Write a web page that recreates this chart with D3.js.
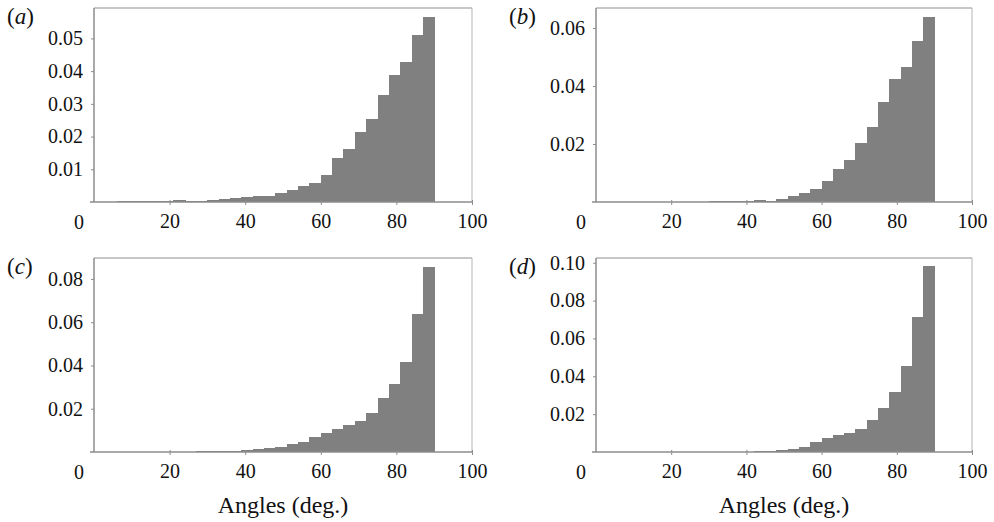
<!DOCTYPE html>
<html>
<head>
<meta charset="utf-8">
<script src="https://cdn.jsdelivr.net/npm/d3@7"></script>
<style>
  html, body { margin: 0; padding: 0; background: #fff; }
  svg { display: block; }
  text { font-family: "Liberation Serif", "Times New Roman", serif; fill: #111; }
</style>
</head>
<body>
<svg id="chart" width="994" height="522"></svg>
<script>
// ---- data ----
const binStarts = [0,3,6,9,12,15,18,21,24,27,30,33,36,39,42,45,48,51,54,57,60,63,66,69,72,75,78,81,84,87];
const binWidth = 3;
const xTicks = [20, 40, 60, 80, 100];
const panelLabels = ["a", "b", "c", "d"];

const valuesA = [0, 0, 0.0002, 0.0004, 0.0003, 0.0002, 0.0003, 0.0005, 0.0004, 0.0003,
  0.0005, 0.0009, 0.0012, 0.0014, 0.0017, 0.0019, 0.0027, 0.0038, 0.0050, 0.0059,
  0.0083, 0.0134, 0.0162, 0.0215, 0.0253, 0.0328, 0.0388, 0.0427, 0.0509, 0.0565];
const valuesB = [0, 0, 0, 0, 0, 0, 0, 0, 0, 0,
  0.0002, 0.0002, 0.0002, 0.0004, 0.0006, 0.0004, 0.0010, 0.0022, 0.0031, 0.0044,
  0.0071, 0.0113, 0.0146, 0.0205, 0.0259, 0.0345, 0.0425, 0.0467, 0.0555, 0.0637];
const valuesC = [0, 0, 0, 0, 0, 0, 0.0001, 0.0002, 0.0002, 0.0003,
  0.0004, 0.0005, 0.0006, 0.0008, 0.0012, 0.0017, 0.0023, 0.0037, 0.0045, 0.0069,
  0.0088, 0.0105, 0.0125, 0.0142, 0.0179, 0.0248, 0.0314, 0.0415, 0.0638, 0.0854];
const valuesD = [0, 0, 0, 0, 0, 0, 0, 0, 0, 0,
  0, 0, 0.0001, 0.0002, 0.0004, 0.0005, 0.0009, 0.0014, 0.0027, 0.0053,
  0.0074, 0.0090, 0.0099, 0.0122, 0.0170, 0.0235, 0.0318, 0.0456, 0.0714, 0.0982];

const yTicksA = [0.01, 0.02, 0.03, 0.04, 0.05];
const yTicksB = [0.02, 0.04, 0.06];
const yTicksC = [0.02, 0.04, 0.06, 0.08];
const yTicksD = [0.02, 0.04, 0.06, 0.08, 0.10];

const yMaxA = 0.0593, yMaxB = 0.0669, yMaxC = 0.0897, yMaxD = 0.1025;

// ---- layout ----
const panels = [
  { label: panelLabels[0], values: valuesA, yTicks: yTicksA, yMax: yMaxA, x0: 94,  x1: 472, top: 8,   bottom: 202, xlabel: false },
  { label: panelLabels[1], values: valuesB, yTicks: yTicksB, yMax: yMaxB, x0: 596, x1: 972, top: 8,   bottom: 202, xlabel: false },
  { label: panelLabels[2], values: valuesC, yTicks: yTicksC, yMax: yMaxC, x0: 94,  x1: 472, top: 258, bottom: 452, xlabel: true },
  { label: panelLabels[3], values: valuesD, yTicks: yTicksD, yMax: yMaxD, x0: 596, x1: 972, top: 258, bottom: 452, xlabel: true }
];

const svg = d3.select("#chart");
const axisDark = "#8c8c8c";
const axisLight = "#b4b4b4";
const barFill = "#808080";
const tickFont = 20;

panels.forEach(p => {
  const x = d3.scaleLinear().domain([0, 100]).range([p.x0, p.x1]);
  const y = d3.scaleLinear().domain([0, p.yMax]).range([p.bottom, p.top]);
  const g = svg.append("g");

  // frame (top & right light)
  g.append("line").attr("x1", x(0)).attr("x2", x(100)).attr("y1", y(p.yMax)).attr("y2", y(p.yMax))
    .attr("stroke", axisLight).attr("stroke-width", 1.5);
  g.append("line").attr("x1", x(100)).attr("x2", x(100)).attr("y1", y(p.yMax)).attr("y2", y(0))
    .attr("stroke", axisLight).attr("stroke-width", 1);

  // bars
  const data = binStarts.map((s, i) => ({ s, v: p.values[i] }));
  g.selectAll("rect.bar").data(data.filter(d => d.v > 0)).join("rect")
    .attr("class", "bar")
    .attr("shape-rendering", "crispEdges")
    .attr("x", d => Math.round(x(d.s)))
    .attr("width", d => Math.round(x(d.s + binWidth)) - Math.round(x(d.s)) + 1)
    .attr("y", d => y(d.v))
    .attr("height", d => y(0) - y(d.v))
    .attr("fill", barFill);

  // y axis
  const yAxis = d3.axisLeft(y).tickValues(p.yTicks).tickFormat(d3.format(".2f")).tickSize(3).tickPadding(8);
  const ya = g.append("g").attr("transform", `translate(${x(0)},0)`).call(yAxis);
  ya.select(".domain").attr("stroke", axisDark).attr("stroke-width", 1.5)
    .attr("d", `M0,${y(p.yMax)}V${y(0)}`);
  ya.selectAll(".tick line").attr("stroke", axisDark);
  ya.selectAll(".tick text").attr("font-size", tickFont).attr("fill", "#111");

  // x axis
  const xAxis = d3.axisBottom(x).tickValues(xTicks).tickFormat(d3.format("d")).tickSize(3).tickPadding(9);
  const xa = g.append("g").attr("transform", `translate(0,${y(0)})`).call(xAxis);
  xa.select(".domain").attr("stroke", axisDark).attr("stroke-width", 1.5)
    .attr("d", `M${x(0) - 4},0H${x(100)}`);
  xa.selectAll(".tick line").attr("stroke", axisDark).attr("y1", -2);
  xa.selectAll(".tick text").attr("font-size", tickFont).attr("fill", "#111");

  // corner "0" label
  g.append("text").attr("x", x(0) - 15).attr("y", y(0) + 27)
    .attr("text-anchor", "middle").attr("font-size", tickFont).text("0");

  // panel label
  const pl = g.append("text").attr("x", p.x0 - 87).attr("y", p.top + 16).attr("font-size", 23);
  pl.append("tspan").text("(");
  pl.append("tspan").attr("font-style", "italic").text(p.label);
  pl.append("tspan").text(")");

  if (p.xlabel) {
    g.append("text").attr("x", x(50)).attr("y", 513).attr("text-anchor", "middle")
      .attr("font-size", 24).text("Angles (deg.)");
  }
});
</script>
</body>
</html>
